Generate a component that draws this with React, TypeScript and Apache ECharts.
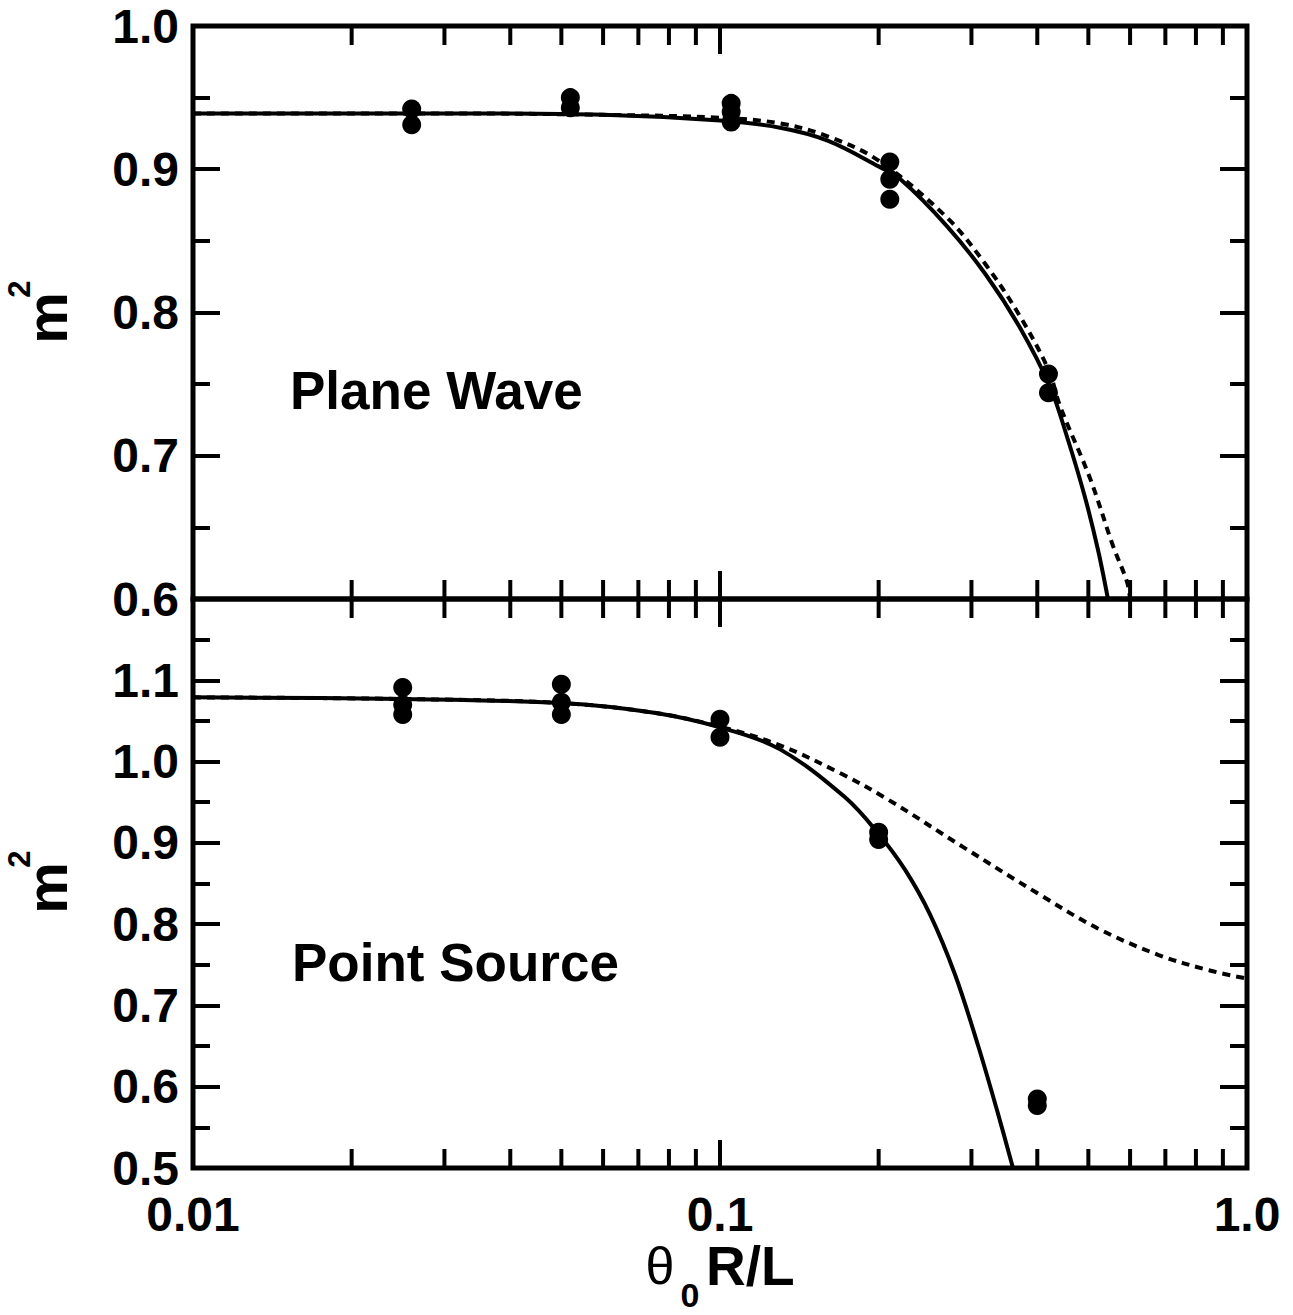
import React, { useEffect, useRef } from 'react';
import * as echarts from 'echarts';

// ---------- data ----------
const xTickLabels = ['0.01', '0.1', '1.0'];
const xMinorTicks = [0.02, 0.03, 0.04, 0.05, 0.06, 0.07, 0.08, 0.09, 0.2, 0.3, 0.4, 0.5, 0.6, 0.7, 0.8, 0.9];
const xMajorTicks = [0.1];

// Plane Wave panel
const planeMeasuredX = [0.026, 0.026, 0.052, 0.052, 0.105, 0.105, 0.105, 0.21, 0.21, 0.21, 0.42, 0.42];
const planeMeasuredY = [0.942, 0.931, 0.95, 0.943, 0.946, 0.94, 0.933, 0.905, 0.893, 0.879, 0.757, 0.744];
const planeSolidX = [0.01, 0.03, 0.06, 0.1, 0.13, 0.16, 0.2, 0.22, 0.27, 0.32, 0.37, 0.423, 0.4575, 0.4927, 0.5217, 0.5447];
const planeSolidY = [0.939, 0.939, 0.938, 0.934, 0.929, 0.92, 0.902, 0.893, 0.86, 0.826, 0.79, 0.748, 0.711, 0.671, 0.634, 0.6];
const planeDashX = [0.01, 0.03, 0.06, 0.1, 0.13, 0.16, 0.2, 0.27, 0.32, 0.37, 0.42, 0.442, 0.504, 0.557, 0.592, 0.6];
const planeDashY = [0.939, 0.939, 0.938, 0.936, 0.932, 0.923, 0.906, 0.866, 0.833, 0.798, 0.76, 0.7345, 0.684, 0.637, 0.612, 0.6];

// Point Source panel
const pointMeasuredX = [0.025, 0.025, 0.025, 0.05, 0.05, 0.05, 0.1, 0.1, 0.2, 0.2, 0.4, 0.4];
const pointMeasuredY = [1.091, 1.07, 1.058, 1.095, 1.073, 1.058, 1.052, 1.03, 0.913, 0.904, 0.585, 0.577];
const pointSolidX = [0.01, 0.025, 0.05, 0.075, 0.1, 0.13, 0.1727, 0.2, 0.2244, 0.2503, 0.2792, 0.3087, 0.3355, 0.3597];
const pointSolidY = [1.079, 1.077, 1.072, 1.06, 1.042, 1.015, 0.956, 0.911, 0.867, 0.812, 0.738, 0.651, 0.571, 0.5];
const pointDashX = [0.01, 0.025, 0.05, 0.075, 0.1, 0.13, 0.17, 0.2075, 0.289, 0.405, 0.52, 0.68, 0.85, 1.0];
const pointDashY = [1.079, 1.077, 1.072, 1.06, 1.043, 1.02, 0.985, 0.954, 0.895, 0.836, 0.795, 0.762, 0.743, 0.733];

const zip = (xs: number[], ys: number[]) => xs.map((x, i) => [x, ys[i]]);

const FONT = '"Liberation Sans", Arial, Helvetica, sans-serif';
const BLACK = '#000';

const GRID_LEFT = 193;
const GRID_WIDTH = 1054;
const TOP_TOP = 26;
const TOP_H = 573;
const BOT_TOP = 599;
const BOT_H = 569;

const allXTicks = [...xMinorTicks, ...xMajorTicks];

function tickSeries(xi: number, yi: number, yMin: number, yMax: number) {
  return {
    type: 'custom',
    xAxisIndex: xi,
    yAxisIndex: yi,
    clip: false,
    silent: true,
    z: 5,
    data: allXTicks.map((v) => [v, yMin]),
    encode: { x: 0, y: 1 },
    renderItem: (params: any, api: any) => {
      const v = api.value(0);
      const isMajor = xMajorTicks.some((m) => Math.abs(m - v) < 1e-9);
      const len = isMajor ? 28 : 19;
      const top = api.coord([v, yMax]);
      const bot = api.coord([v, yMin]);
      const st = { stroke: BLACK, lineWidth: 4 };
      return {
        type: 'group',
        children: [
          { type: 'line', shape: { x1: top[0], y1: top[1], x2: top[0], y2: top[1] + len }, style: st },
          { type: 'line', shape: { x1: bot[0], y1: bot[1], x2: bot[0], y2: bot[1] - len }, style: st },
        ],
      };
    },
  };
}

function xAxisCfg(gridIndex: number, showLabel: boolean) {
  return {
    type: 'log',
    logBase: 10,
    gridIndex,
    min: 0.01,
    max: 1,
    splitNumber: 2,
    axisLine: { show: false },
    axisTick: { show: false },
    splitLine: { show: false },
    axisLabel: {
      show: showLabel,
      margin: 22,
      color: BLACK,
      fontFamily: FONT,
      fontWeight: 'bold',
      fontSize: 48,
      formatter: (v: number) => {
        const e = Math.round(Math.log10(v));
        return xTickLabels[e + 2] ?? '';
      },
    },
  };
}

function yAxisCfg(gridIndex: number, min: number, max: number, right: boolean, showMax: boolean) {
  return {
    type: 'value',
    gridIndex,
    position: right ? 'right' : 'left',
    min,
    max,
    interval: 0.1,
    axisLine: { show: false },
    axisTick: { show: true, inside: true, length: 27, lineStyle: { color: BLACK, width: 4 } },
    minorTick: { show: true, splitNumber: 2, length: 17, lineStyle: { color: BLACK, width: 4 } },
    splitLine: { show: false },
    minorSplitLine: { show: false },
    axisLabel: {
      show: !right,
      showMaxLabel: showMax,
      margin: 14,
      color: BLACK,
      fontFamily: FONT,
      fontWeight: 'bold',
      fontSize: 48,
      formatter: (v: number) => v.toFixed(1),
    },
  };
}

function txt(text: string, x: number, y: number, size: number, opts: any = {}) {
  return {
    type: 'text',
    x,
    y,
    rotation: opts.rotation || 0,
    z: 10,
    style: {
      text,
      fill: BLACK,
      fontFamily: opts.family || FONT,
      fontWeight: opts.weight || 'bold',
      fontSize: size,
      textAlign: opts.align || 'left',
      align: opts.align || 'left',
      textVerticalAlign: 'middle',
      verticalAlign: 'middle',
    },
  };
}

export default function App() {
  const ref = useRef<HTMLDivElement>(null);
  useEffect(() => {
    document.body.style.margin = '0';
    const chart = echarts.init(ref.current!, null, { renderer: 'svg' });
    const lineBase = {
      type: 'line',
      showSymbol: false,
      symbol: 'none',
      smooth: 0.35,
      z: 3,
    };
    const dotStyle = { color: BLACK, opacity: 1 };
    const option: any = {
      animation: false,
      backgroundColor: '#fff',
      grid: [
        { left: GRID_LEFT, top: TOP_TOP, width: GRID_WIDTH, height: TOP_H, show: true, borderColor: BLACK, borderWidth: 5, backgroundColor: 'transparent' },
        { left: GRID_LEFT, top: BOT_TOP, width: GRID_WIDTH, height: BOT_H, show: true, borderColor: BLACK, borderWidth: 5, backgroundColor: 'transparent' },
      ],
      xAxis: [xAxisCfg(0, false), xAxisCfg(1, true)],
      yAxis: [
        yAxisCfg(0, 0.6, 1.0, false, true),
        yAxisCfg(0, 0.6, 1.0, true, true),
        yAxisCfg(1, 0.5, 1.2, false, false),
        yAxisCfg(1, 0.5, 1.2, true, false),
      ],
      series: [
        tickSeries(0, 0, 0.6, 1.0),
        tickSeries(1, 2, 0.5, 1.2),
        { ...lineBase, name: 'plane-solid', xAxisIndex: 0, yAxisIndex: 0, data: zip(planeSolidX, planeSolidY), lineStyle: { color: BLACK, width: 4 } },
        { ...lineBase, name: 'plane-dash', xAxisIndex: 0, yAxisIndex: 0, data: zip(planeDashX, planeDashY), lineStyle: { color: BLACK, width: 4, type: [8, 6] } },
        { type: 'scatter', name: 'plane-data', xAxisIndex: 0, yAxisIndex: 0, data: zip(planeMeasuredX, planeMeasuredY), symbol: 'circle', symbolSize: 19, itemStyle: dotStyle, z: 4 },
        { ...lineBase, name: 'point-solid', xAxisIndex: 1, yAxisIndex: 2, data: zip(pointSolidX, pointSolidY), lineStyle: { color: BLACK, width: 4 } },
        { ...lineBase, name: 'point-dash', xAxisIndex: 1, yAxisIndex: 2, data: zip(pointDashX, pointDashY), lineStyle: { color: BLACK, width: 4, type: [8, 6] } },
        { type: 'scatter', name: 'point-data', xAxisIndex: 1, yAxisIndex: 2, data: zip(pointMeasuredX, pointMeasuredY), symbol: 'circle', symbolSize: 19, itemStyle: dotStyle, z: 4 },
      ],
      graphic: [
        txt('Plane Wave', 290, 390, 53),
        txt('Point Source', 292, 962, 53),
        txt('m', 46, 318, 58, { rotation: Math.PI / 2, align: 'center' }),
        txt('2', 19, 289, 31, { rotation: Math.PI / 2, align: 'center' }),
        txt('m', 46, 888, 58, { rotation: Math.PI / 2, align: 'center' }),
        txt('2', 19, 859, 31, { rotation: Math.PI / 2, align: 'center' }),
        txt('θ', 660, 1266, 52, { align: 'center', weight: 'normal' }),
        txt('0', 690, 1295, 34, { align: 'center' }),
        txt('R/L', 706, 1266, 55),
      ],
    };
    chart.setOption(option);
    return () => chart.dispose();
  }, []);
  return <div ref={ref} style={{ width: 1293, height: 1315, background: '#fff' }} />;
}
